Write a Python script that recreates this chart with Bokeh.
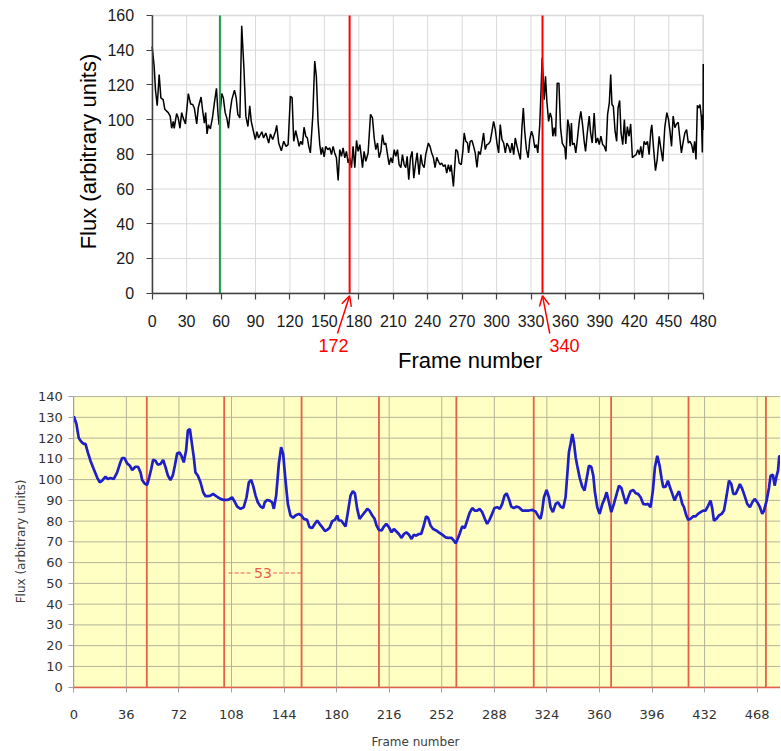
import math
from bokeh.plotting import figure
from bokeh.models import Label, Arrow, OpenHead, Range1d, FixedTicker, LinearAxis, BoxAnnotation
from bokeh.embed import file_html
from bokeh.resources import INLINE

# ---------------- data: top panel (raw flux) ----------------
top_frames = [0, 1.7, 2.9, 4.4, 6.1, 7.6, 9.6, 11, 14, 15.7, 17, 18.4, 19.2, 21.3, 22.7, 24.2, 25.7, 27, 29,
              31.5, 33.5, 35.3, 36.7, 38.8, 40.2, 42.6, 44, 45.5, 46.6, 47.8, 49, 50.7, 52.5, 54.2, 56, 57.4,
              58.3, 60.6, 62, 63.6, 65, 66.5, 68, 69.4, 71.7, 73.2, 74.6, 76.4, 78, 79.9, 81.6, 83.4, 85, 86.3,
              88.3, 89.8, 91.3, 92.7, 95.6, 97, 99, 101.5, 103, 105, 107.3, 108.5, 110.2, 112.5, 114.6, 116.6,
              118.4, 120.4, 121.9, 123.3, 125, 126.5, 128, 129.4, 130.9, 132.3, 133.8, 135.2, 136.4, 137.8,
              139.9, 141.6, 143, 144.5, 146, 147.2, 148.3, 149.8, 151.2, 153, 154.7, 156.2, 157.6, 159, 160.5,
              162, 163.4, 164.9, 166.3, 167.8, 169.2, 170.7, 172.1, 173.6, 175, 176.5, 178, 179.4, 180.9,
              182.3, 183.2, 184.6, 186.1, 188.1, 190.2, 191.9, 193.4, 194.8, 196.3, 197.7, 199.2, 200.6,
              202.1, 203.5, 205, 206.4, 207.9, 209.3, 210.8, 212.2, 213.7, 215.1, 216.6, 218, 219.5, 220.9,
              222.1, 223.5, 225, 226.4, 227.9, 229.3, 230.8, 232.5, 234, 235.4, 236.9, 238.3, 240.6, 242,
              243.5, 245, 246.4, 247.9, 249.3, 250.8, 252.2, 253.7, 255.2, 256.6, 258, 259.5, 260.4, 262.4,
              264.5, 266, 267.4, 269.2, 270.6, 271.8, 273.2, 274.7, 275.6, 277, 278.5, 280, 281.4, 282.9,
              284.3, 285.8, 287.2, 288.7, 290.1, 291.6, 293, 294.5, 296, 297.4, 298.9, 300.3, 301.8, 303.2,
              304.7, 306.2, 307.6, 309, 310.5, 312, 313.4, 314.9, 316.3, 317.8, 319.2, 320.7, 322.1, 323.3,
              324.5, 326, 327.5, 328.9, 330.4, 331.8, 333.3, 334.7, 335.9, 337.6, 338.8, 339.7, 340.6, 341.5,
              342.6, 343.8, 345.3, 346.7, 347.9, 349, 350.2, 351.4, 352.8, 354.3, 355.7, 357.2, 359.5, 360.3,
              362, 363.2, 364, 365.2, 366, 367.6, 369, 370.5, 372, 373.4, 374.9, 376.3, 377.5, 379, 380.7,
              381.9, 383.3, 385, 386.5, 388, 389.4, 390.9, 392.4, 393.8, 395.3, 396.7, 398.2, 399.4, 400.5,
              401.7, 403.2, 404.6, 405.8, 407.2, 408.4, 409.9, 411.3, 412.5, 413.9, 415.4, 416.8, 418.3,
              419.8, 421.5, 423, 424.4, 425.6, 427, 428.5, 430, 431.4, 432.9, 434.3, 435.2, 436.7, 438.4,
              439.9, 441.6, 443, 444.8, 446.5, 448.3, 449.8, 451.2, 452.4, 453.8, 455.3, 456.7, 458.2, 459.6,
              461, 462.6, 464, 465.5, 467, 468.4, 469.9, 471.3, 472.5, 473.7, 474.9, 476, 477.2, 478.4,
              479.2, 479.6, 479.9, 480]
top_flux = [142, 131, 117, 108, 126, 112.5, 111.5, 106, 104, 102, 95, 99, 95, 103.5, 101, 95, 104, 101, 97.5,
            115, 109, 108.7, 106.7, 97.5, 107, 113, 105, 98, 104, 91.7, 97, 94.6, 101, 109.6, 118, 103,
            97, 115, 112.5, 104, 101, 95, 105, 111.5, 117, 112.5, 103, 101, 154, 130, 102, 96, 108, 99,
            93, 88.5, 93, 89.4, 93, 89.4, 92.3, 86.5, 91.7, 88.5, 93, 96.7, 86.5, 82, 87.5, 84.6,
            85.6, 113.5, 112.5, 87.5, 93.7, 89.4, 84.6, 87.5, 85.6, 95.6, 90.4, 89.4, 84.6, 80.8,
            102, 133.7, 125, 99, 85.6, 79.8, 84, 78.5, 84.6, 82.7, 83.7, 79.8, 84.6, 80.8, 78,
            65, 82.7, 78.8, 83.7, 78, 81.7, 75, 78, 72.3, 84.6, 72.3, 88, 81.7, 85.6,
            78, 72.3, 81.7, 76, 80.8, 103, 101, 89.4, 82.7, 86.5, 78, 81.7, 91.3,
            85.6, 86.5, 79.8, 74, 78, 75, 82.7, 78.8, 82.7, 74, 72.3, 79.8, 74, 72.3,
            78.8, 65.4, 78, 81.7, 66.3, 74, 80.8, 68.3, 79.8, 74, 72.3, 80, 86.5, 84.6,
            80.8, 78, 72.3, 78.3, 76, 74, 75, 73, 74, 69.2, 74, 70, 74, 61.5,
            82.7, 81.7, 75, 74, 81.7, 92.3, 87.5, 86.5, 80.8, 87.5, 88, 84.6, 80.8, 72.5,
            81.7, 79.8, 85.6, 92.3, 82.7, 85.6, 86, 87.5, 93.3, 99, 94.2, 86.5, 80.8, 97.1,
            88.5, 86.5, 80.8, 86.5, 84.6, 80.8, 86.5, 79.8, 89.4, 84.6, 80.8, 77, 95.4, 106.7,
            93.3, 82.7, 78, 88.5, 93.3, 90.4, 83.7, 85.6, 80.8, 97.1, 118, 135.6, 124, 111.5,
            125, 110.6, 99, 103.8, 101, 90.4, 95.4, 90.4, 121, 121, 95.4, 86.5, 83.7, 77,
            100, 96, 84.6, 98, 85.6, 86.5, 80.8, 89.4, 99, 104.8, 97, 87.5, 81.7, 92.3, 102,
            92.3, 86.5, 103.8, 86.5, 89.4, 85.6, 90.4, 85.6, 84.6, 81.7, 103, 109.6, 126, 108.7,
            107.7, 93.3, 87.5, 106.7, 111, 92.3, 85.6, 100, 86, 96, 90.4, 97.5, 78,
            79, 79.8, 82.7, 79.8, 84.6, 78, 87.5, 85.6, 87.5, 79.8, 93.3, 97, 83.7, 70.6,
            77, 90.4, 83.7, 76, 95.4, 104, 100, 92.3, 84.6, 102, 95.4, 97.5, 98.5, 89.4,
            80.8, 87.5, 92.3, 94.2, 86.5, 87.5, 85.6, 80.8, 87.5, 77, 108.3, 106.7, 108.7, 101,
            81, 103, 94, 132]
top_x_ticks = [0, 30, 60, 90, 120, 150, 180, 210, 240, 270, 300, 330, 360, 390, 420, 450, 480]
top_y_ticks = [0, 20, 40, 60, 80, 100, 120, 140, 160]
start_frame = 59
marked_frames = [172, 340]
marked_labels = ["172", "340"]

# ---------------- data: bottom panel (smoothed flux) ----------------
bottom_frames = [0, 1.8, 3.4, 5, 6.8, 8, 9.6, 11.4, 13.7, 16, 17.8, 19.4, 21.7, 23.3, 25.1, 27.4, 29.7, 31.5,
                 33.1, 34.7, 36.5, 38.4, 40, 42.2, 44, 45.7, 46.8, 48.4, 50.2, 51.6, 53, 54.3, 55.9, 57.5,
                 59.4, 61.2, 62.8, 64.4, 66.2, 67.8, 69.2, 70.8, 72.4, 73.7, 75.3, 76.9, 78.1, 79.5, 80.6,
                 82.2, 83.3, 84.9, 86.8, 88.6, 90.2, 92, 93.6, 95.4, 97, 98.6, 100.5, 102.7, 105, 106.8,
                 108.4, 110, 111.9, 114.2, 116.4, 118.3, 119.9, 121.5, 122.8, 124.5, 126, 127.9, 129.7,
                 130.8, 132.4, 134.2, 135.8, 137, 138.6, 140.4, 142, 143.4, 145, 146.6, 148.4, 150.2, 151.8,
                 154.1, 155.9, 157.5, 159.8, 161.4, 163.3, 165.1, 166.7, 168.3, 170.1, 172, 173.5, 175.1,
                 177, 178.8, 180.4, 181.5, 183.1, 184.5, 186.1, 187.9, 189.5, 191.1, 192.5, 194.1, 195.7,
                 197.5, 199.3, 201, 202.5, 204.4, 206, 207.3, 208.9, 210.8, 212.4, 214, 215.8, 217.6,
                 219.2, 220.8, 222.6, 224.5, 226.1, 227.7, 229.5, 231.3, 232.9, 234.5, 236.3, 237.9,
                 239.7, 241.3, 242.7, 244.3, 246.1, 248.2, 250, 252.3, 254.6, 256.4, 258.7, 260.3, 261.5,
                 262.6, 264.2, 266, 267.8, 269.4, 271, 272.9, 274.5, 276.3, 277.9, 279.7, 281.5, 283.1,
                 284.7, 286.5, 288.1, 290, 291.8, 293.4, 295, 296.4, 298, 299.6, 301.4, 303, 304.8, 307.1,
                 309.4, 311.7, 314, 316.2, 318.5, 319.7, 320.8, 322, 323.8, 325.4, 326.5, 328.1, 330,
                 331.6, 333.4, 335.2, 336.8, 338, 339.1, 340.2, 341.4, 342.5, 343.7, 344.8, 346.4, 348.2,
                 349.8, 351.2, 352.8, 354.4, 355.8, 356.9, 358.5, 360.1, 362, 363.5, 364.9, 366.5, 368.1,
                 369.9, 371.8, 373.4, 375, 376.8, 378.1, 379.7, 381.3, 383.2, 384.8, 386.4, 388.2, 390,
                 391.6, 393.2, 395, 396.6, 398, 399.6, 401.2, 402.6, 403.7, 405.3, 406.9, 408.3, 409.9,
                 411.5, 412.9, 414.5, 415.6, 416.7, 417.9, 419.5, 420.8, 422.4, 424.3, 425.9, 427.5,
                 429.3, 431.1, 432.7, 434.5, 436.1, 437.3, 438.4, 440.2, 441.8, 443.7, 445.3, 447.1,
                 448.7, 450.3, 451.7, 453.3, 454.9, 456.2, 457.8, 459.4, 461.2, 463.1, 464.7, 466.3,
                 468.1, 469.9, 471.5, 472.7, 474.5, 476.1, 477.2, 478.8, 480, 481.1, 482.3, 483.2, 484.1]
bottom_flux = [130.5, 126.8, 120, 118.4, 117.2, 117.2, 113.1, 109.1, 105, 101, 98.7, 99.5, 101.4, 100.3, 100.8,
               100.3, 103.5, 107.5, 110.4, 110.4, 107.8, 106.7, 104.6, 106.2, 106.2, 103.5, 99.8, 98.2,
               97.4, 101, 105, 109.5, 109.1, 107.2, 107.5, 109.5, 106, 102, 99.8, 102, 106.7, 112.7,
               113.1, 111.5, 108.3, 114, 123.6, 124.4, 118.8, 110.7, 103.5, 102, 98.7, 93.9, 92, 92,
               92.3, 93.1, 92.3, 91.5, 90.7, 90.2, 90.2, 90.7, 91.5, 89.6, 87, 85.9, 86.7, 91.5, 98.7,
               99.8, 97.1, 92.3, 89.1, 87, 86.3, 89.1, 90.2, 89.9, 89.1, 85.9, 92.3, 107.5, 115.6,
               112.3, 99.5, 88.3, 82.7, 81.6, 82.7, 83.5, 82.7, 81.1, 80.6, 77.1, 76.7, 78.7, 80.3,
               78.7, 77.1, 75.2, 75.8, 76.7, 80, 80.6, 82.7, 80.3, 80.3, 79, 77.4, 85.1, 92.3, 94.4,
               93.4, 85.9, 81.1, 82.7, 84.3, 85.9, 85.1, 82.7, 81.1, 77.9, 75.8, 75.5, 77.4, 78.7,
               77.1, 74.6, 76.2, 75.1, 73.8, 71.9, 73.8, 74.6, 73.5, 71.4, 73.5, 73, 73.8, 73.8, 77.9,
               82.3, 81.6, 77.9, 76.2, 75.5, 74.6, 73.5, 72.2, 71.9, 71.9, 70.6, 69.3, 70.9, 73.8,
               77.4, 76.7, 80.3, 83.8, 86.3, 85.1, 85.1, 85.9, 84.3, 81.1, 78.7, 80.6, 83.5, 86.3,
               86.7, 85.9, 88.3, 92.3, 93.4, 90.7, 87, 86.3, 87, 86.7, 85.1, 85.1, 85.1, 85.4, 84.7,
               81.9, 81.1, 85.1, 91.5, 95, 91.5, 86.7, 84.3, 88.3, 89.1, 87, 86.3, 91.5, 102.7, 113.2,
               117.2, 122, 118, 110.8, 106.7, 101.1, 96.6, 94.7, 100.3, 106.7, 106.2, 101.9, 93.9,
               86.7, 83.5, 88.3, 90.7, 93.9, 89.1, 84.3, 88.3, 93.1, 97.1, 96, 91.5, 88.3, 91.5, 94.4,
               95, 93.4, 93.1, 91.5, 88.3, 88, 88.3, 86.7, 94.7, 106, 111.5, 106.7, 100.3, 96.3, 96.6,
               99.5, 96.3, 93.1, 89.9, 92.3, 94.4, 91.5, 88.3, 86.7, 82.7, 80.6, 81.1, 82.3, 82.3,
               83.5, 84.3, 85.1, 85.1, 87.5, 89.9, 85.9, 80.3, 81.1, 82.7, 83.5, 85.1, 92.3, 99.5,
               97.9, 93.1, 93.1, 95.5, 97.9, 95.5, 92.3, 88.3, 86.7, 89.1, 90.7, 89.1, 86.7, 83.5,
               85.1, 89.9, 96, 101.9, 102.3, 97.1, 101.1, 104.3, 111.5, 110.7]
bottom_x_ticks = [0, 36, 72, 108, 144, 180, 216, 252, 288, 324, 360, 396, 432, 468]
bottom_y_ticks = [0, 10, 20, 30, 40, 50, 60, 70, 80, 90, 100, 110, 120, 130, 140]
period_frames = [50, 103, 156, 209, 262, 315, 368, 421, 474]
period_text = "53"
period_from, period_to, period_level = 103, 156, 55

# ---------------- one canvas holding both panels ----------------
W, H = 780, 750
p = figure(width=W, height=H, output_backend="svg", toolbar_location=None,
           x_range=Range1d(-132.1, 547.3), y_range=Range1d(-263.4, 168.6),
           min_border_left=0, min_border_right=0, min_border_top=0, min_border_bottom=0)
p.outline_line_color = None
p.background_fill_color = "white"
p.border_fill_color = "white"
p.xgrid.visible = False
p.ygrid.visible = False
p.extra_x_ranges = {"bx": Range1d(-50.2, 484.0)}
p.extra_y_ranges = {"by": Range1d(-30.5, 330.8)}

TFONT = "Liberation Sans"
BFONT = "DejaVu Sans"
CORAL = "#e4604a"
TX0, TX1 = top_x_ticks[0], top_x_ticks[-1]
TY0, TY1 = top_y_ticks[0], top_y_ticks[-1]
BX1 = p.extra_x_ranges["bx"].end
BY0, BY1 = bottom_y_ticks[0], bottom_y_ticks[-1]

# ---- top panel ----
p.segment(x0=top_x_ticks, y0=[TY0] * len(top_x_ticks), x1=top_x_ticks, y1=[TY1] * len(top_x_ticks),
          line_color="#d9d9d9", line_width=1)
p.segment(x0=[TX0] * len(top_y_ticks), y0=top_y_ticks, x1=[TX1] * len(top_y_ticks), y1=top_y_ticks,
          line_color="#d9d9d9", line_width=1)
p.add_layout(BoxAnnotation(left=TX0, right=TX1, bottom=TY0, top=TY1, fill_alpha=0,
                           line_color="#8c8c8c", line_width=1.5, level="underlay"))
p.line(top_frames, top_flux, line_color="black", line_width=1.5)
p.segment(x0=[start_frame], y0=[TY0], x1=[start_frame], y1=[TY1], line_color="#1f9a4a", line_width=2)
p.segment(x0=marked_frames, y0=[TY0] * 2, x1=marked_frames, y1=[TY1] * 2, line_color="#ff0000", line_width=2)

ax = p.below[0]
ax.fixed_location = 0
ax.bounds = (TX0, TX1)
ax.ticker = FixedTicker(ticks=top_x_ticks)
ay = p.left[0]
ay.fixed_location = 0
ay.bounds = (TY0, TY1)
ay.ticker = FixedTicker(ticks=top_y_ticks)
for a in (ax, ay):
    a.axis_line_color = "#404040"
    a.axis_line_width = 1.5
    a.major_tick_line_color = "#404040"
    a.major_tick_line_width = 1.2
    a.major_tick_out = 6
    a.major_tick_in = 0
    a.minor_tick_line_color = None
    a.major_label_text_color = "#1a1a1a"
    a.major_label_text_font = TFONT
    a.major_label_text_font_size = "16px"
ax.major_label_standoff = 16
ay.major_label_standoff = 12

p.add_layout(Label(x=-55.5, y=81.6, text="Flux (arbitrary units)", angle=math.pi / 2,
                   text_font=TFONT, text_font_size="22px", text_color="#000000",
                   text_align="center", text_baseline="middle"))
p.add_layout(Label(x=277, y=-38.8, text="Frame number", text_font=TFONT, text_font_size="22px",
                   text_color="#000000", text_align="center", text_baseline="middle"))
tails = [(161.4, -23.2), (346.3, -23.2)]
text_pos = [(158, -30.1), (359.2, -30.1)]
for fr, lab, (tx, ty), (lx, ly) in zip(marked_frames, marked_labels, tails, text_pos):
    p.add_layout(Arrow(end=OpenHead(line_color="#ff0000", line_width=1.5, size=10),
                       x_start=tx, y_start=ty, x_end=fr, y_end=-1.5,
                       line_color="#ff0000", line_width=1.5))
    p.add_layout(Label(x=lx, y=ly, text=lab, text_color="#ff0000", text_font=TFONT,
                       text_font_size="18px", text_align="center", text_baseline="middle"))

# ---- bottom panel ----
rb = dict(x_range_name="bx", y_range_name="by")
p.add_layout(BoxAnnotation(left=0, right=BX1, bottom=BY0, top=BY1, fill_color="#ffffc4", fill_alpha=1,
                           line_color=None, level="underlay", **rb))
p.segment(x0=bottom_x_ticks, y0=[BY0] * len(bottom_x_ticks), x1=bottom_x_ticks, y1=[BY1] * len(bottom_x_ticks),
          line_color="#b4b498", line_width=1, **rb)
p.segment(x0=[0] * len(bottom_y_ticks), y0=bottom_y_ticks, x1=[BX1] * len(bottom_y_ticks), y1=bottom_y_ticks,
          line_color="#b4b498", line_width=1, **rb)
p.segment(x0=period_frames, y0=[BY0] * len(period_frames), x1=period_frames, y1=[BY1] * len(period_frames),
          line_color=CORAL, line_width=1.8, **rb)
p.line(bottom_frames, bottom_flux, line_color="#1f1fc8", line_width=2.7, **rb)

mid = (period_from + period_to) / 2
p.segment(x0=[period_from + 3, mid + 7], y0=[period_level, period_level],
          x1=[mid - 7, period_to], y1=[period_level, period_level],
          line_color=CORAL, line_width=1.2, line_dash="4 2", **rb)
p.add_layout(Label(x=mid, y=period_level, text=period_text, text_color=CORAL, text_font=BFONT,
                   text_font_size="14px", text_align="center", text_baseline="middle", **rb))

bx = LinearAxis(fixed_location=0, bounds=(0, BX1), ticker=FixedTicker(ticks=bottom_x_ticks), **rb)
by = LinearAxis(fixed_location=0, bounds=(BY0, BY1), ticker=FixedTicker(ticks=bottom_y_ticks), **rb)
for a in (bx, by):
    a.major_tick_line_color = "#a0a0a0"
    a.major_tick_out = 5
    a.major_tick_in = 0
    a.minor_tick_line_color = None
    a.major_label_text_font = BFONT
    a.major_label_text_font_size = "13px"
    a.major_label_text_color = "#333333"
bx.axis_line_color = CORAL
bx.axis_line_width = 1.5
by.axis_line_color = "#a0a0a0"
bx.major_label_standoff = 18
by.major_label_standoff = 6
p.add_layout(bx, "below")
p.add_layout(by, "left")

p.add_layout(Label(x=-36.5, y=70.2, text="Flux (arbitrary units)", angle=math.pi / 2,
                   text_font=BFONT, text_font_size="12px", text_color="#404040",
                   text_align="center", text_baseline="middle", **rb))
p.add_layout(Label(x=234, y=-26.2, text="Frame number", text_font=BFONT, text_font_size="12px",
                   text_color="#404040", text_align="center", text_baseline="middle", **rb))

open("out.html", "w").write(file_html(p, INLINE))
